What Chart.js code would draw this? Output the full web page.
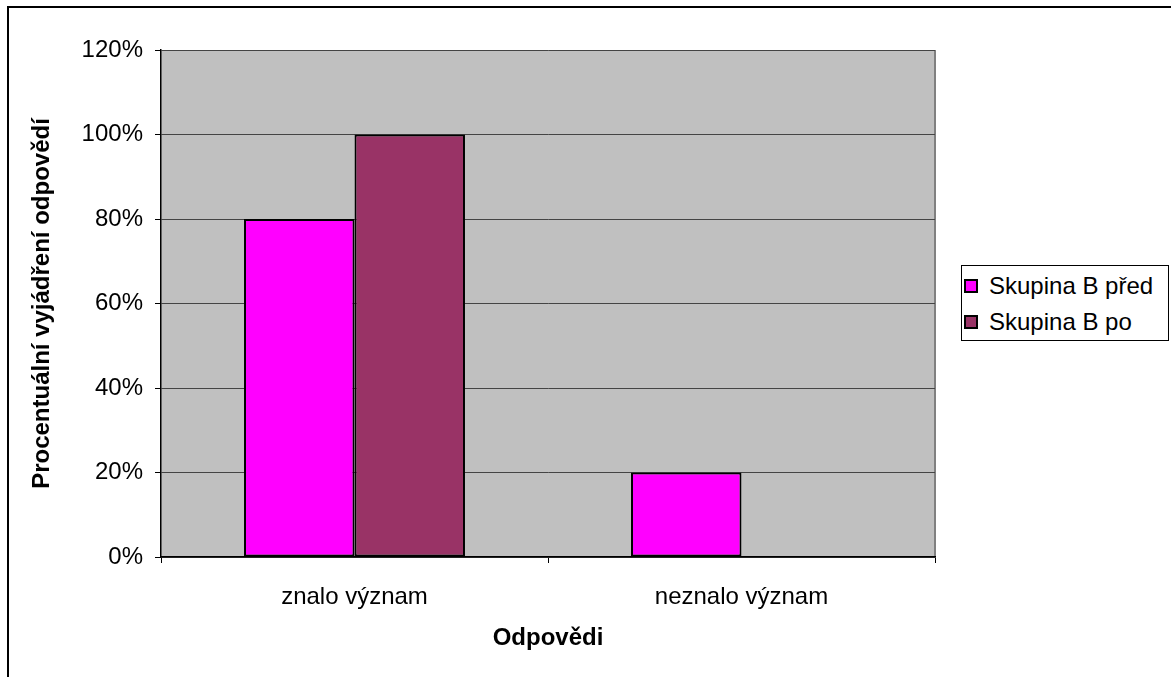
<!DOCTYPE html>
<html lang="cs">
<head>
<meta charset="utf-8">
<title>Skupina B</title>
<script src="https://cdn.jsdelivr.net/npm/chart.js@4.4.1/dist/chart.umd.min.js"></script>
<style>
  html, body { margin: 0; padding: 0; background: #fff; overflow: hidden; }
  #wrap { position: relative; width: 1171px; height: 677px; }
  #chart { position: absolute; left: 0; top: 0; }
  #legend {
    position: absolute; left: 961px; top: 265px; width: 208px; height: 76px;
    box-sizing: border-box; border: 1px solid #000; background: #fff;
    font: 24px "Liberation Sans", Arial, sans-serif; color: #000; padding-top: 2px;
  }
  #legend .item { display: flex; align-items: center; height: 36px; padding-left: 2px; }
  #legend .box { width: 10px; height: 10px; border: 2px solid #000; margin-right: 11px; }
</style>
</head>
<body>
<div id="wrap">
  <canvas id="chart" width="1171" height="677"></canvas>
  <div id="legend"></div>
</div>
<script>
const categories = ['znalo význam', 'neznalo význam'];
const seriesNames = ['Skupina B před', 'Skupina B po'];
const pred = [80, 20];
const po = [100, 0];
const colors = ['#ff00ff', '#993366'];

const FONT = '"Liberation Sans", Arial, sans-serif';

// gray plot area and the outer frame lines
const plotBg = {
  id: 'plotBg',
  beforeDraw(chart) {
    const { ctx, chartArea: a } = chart;
    ctx.save();
    ctx.fillStyle = '#c0c0c0';
    ctx.fillRect(a.left, a.top, a.width, a.height);
    ctx.strokeStyle = '#808080';
    ctx.lineWidth = 2;
    ctx.beginPath();
    ctx.moveTo(a.right, a.top);
    ctx.lineTo(a.right, a.bottom);
    ctx.stroke();
    ctx.strokeStyle = '#000';
    ctx.lineWidth = 2;
    ctx.beginPath();
    ctx.moveTo(8, 700);
    ctx.lineTo(8, 7);
    ctx.lineTo(1200, 7);
    ctx.stroke();
    ctx.restore();
  }
};

const chart = new Chart(document.getElementById('chart'), {
  type: 'bar',
  data: {
    labels: categories,
    datasets: [
      { label: seriesNames[0], data: pred, backgroundColor: colors[0] },
      { label: seriesNames[1], data: po, backgroundColor: colors[1] }
    ]
  },
  options: {
    responsive: false,
    animation: false,
    datasets: {
      bar: {
        borderColor: '#000',
        borderWidth: 2,
        borderSkipped: false,
        categoryPercentage: 0.571,
        barPercentage: 1
      }
    },
    layout: { padding: { top: 50, right: 236, bottom: 0, left: 0 } },
    plugins: {
      legend: { display: false },
      tooltip: { enabled: false }
    },
    scales: {
      x: {
        afterFit: s => { s.height = 120; },
        grid: { drawOnChartArea: false, offset: true, tickLength: 6, tickColor: '#000', lineWidth: 1 },
        border: { color: '#000', width: 1.5 },
        ticks: { color: '#000', padding: 20, font: { family: FONT, size: 24 } },
        title: {
          display: true, text: 'Odpovědi', color: '#000',
          font: { family: FONT, size: 24, weight: 'bold' },
          padding: { top: 0, bottom: 24 }
        }
      },
      y: {
        min: 0, max: 120,
        afterFit: s => { s.width = 161; },
        grid: { color: '#444', lineWidth: 1, tickLength: 6, tickColor: '#000' },
        border: { color: '#000', width: 1.5 },
        ticks: {
          stepSize: 20, color: '#000', padding: 12,
          font: { family: FONT, size: 24 },
          callback: v => v + '%'
        },
        title: {
          display: true, text: 'Procentuální vyjádření odpovědí', color: '#000',
          font: { family: FONT, size: 24, weight: 'bold' },
          padding: { top: 28, bottom: 0 }
        }
      }
    }
  },
  plugins: [plotBg]
});

// legend built from the chart's datasets
const legend = document.getElementById('legend');
chart.data.datasets.forEach(ds => {
  const item = document.createElement('div');
  item.className = 'item';
  const box = document.createElement('span');
  box.className = 'box';
  box.style.background = ds.backgroundColor;
  const text = document.createElement('span');
  text.textContent = ds.label;
  item.appendChild(box);
  item.appendChild(text);
  legend.appendChild(item);
});
</script>
</body>
</html>
